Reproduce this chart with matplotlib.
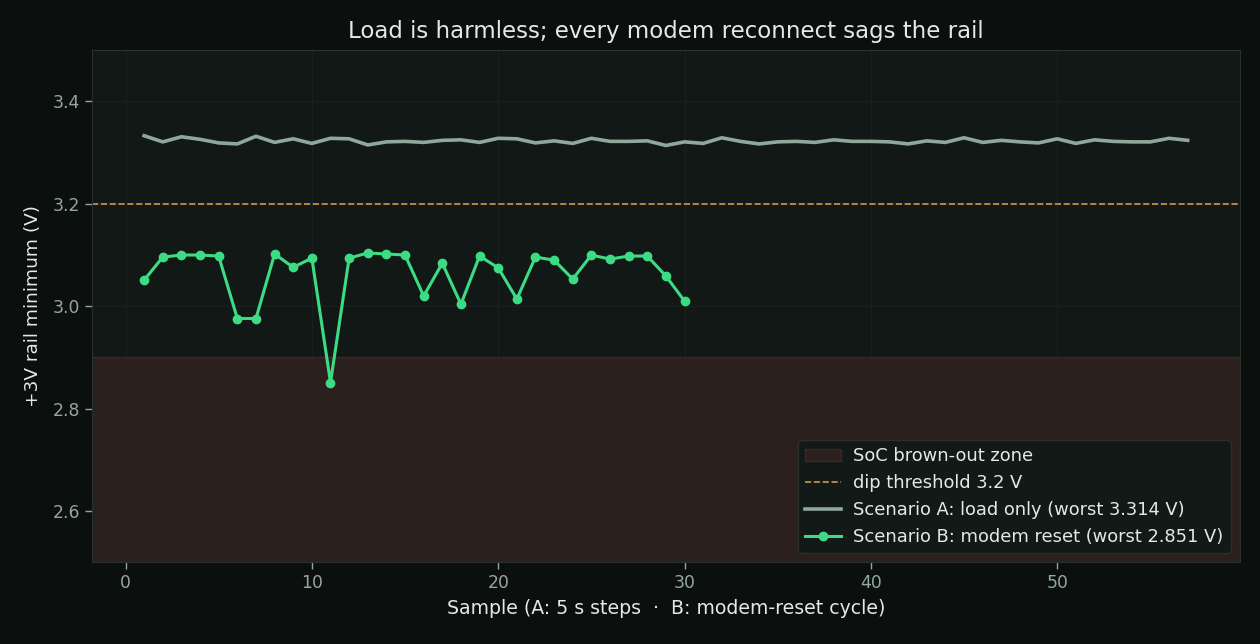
import numpy as np
import matplotlib
matplotlib.use("Agg")
import matplotlib.pyplot as plt

# Scenario A: load only, one sample every 5 s
samples_a = list(range(1, 58))
rail_a = [3.333, 3.321, 3.331, 3.326, 3.319, 3.317, 3.332, 3.320, 3.327, 3.318,
          3.328, 3.327, 3.315, 3.321, 3.322, 3.320, 3.324, 3.325, 3.320, 3.328,
          3.327, 3.319, 3.323, 3.318, 3.328, 3.322, 3.322, 3.323, 3.314, 3.321,
          3.318, 3.329, 3.322, 3.317, 3.321, 3.322, 3.320, 3.325, 3.322, 3.322,
          3.321, 3.317, 3.323, 3.320, 3.329, 3.320, 3.324, 3.321, 3.319, 3.327,
          3.318, 3.325, 3.322, 3.321, 3.321, 3.328, 3.324]

# Scenario B: modem-reset cycles
samples_b = list(range(1, 31))
rail_b = [3.051, 3.096, 3.100, 3.100, 3.098, 2.976, 2.976, 3.102, 3.076, 3.094,
          2.851, 3.094, 3.104, 3.102, 3.100, 3.020, 3.084, 3.004, 3.098, 3.075,
          3.014, 3.096, 3.090, 3.053, 3.100, 3.092, 3.098, 3.098, 3.059, 3.010]

threshold = 3.2
brownout = (2.5, 2.9)

bg = "#0b0f0e"
panel = "#111816"
text_c = "#e3e9e6"
tick_c = "#92a89c"
edge_c = "#27312d"

fig = plt.figure(figsize=(12.6, 6.44), dpi=100, facecolor=bg)
ax = fig.add_axes([0.073, 0.127, 0.911, 0.795])
ax.set_facecolor(panel)

ax.axhspan(brownout[0], brownout[1], facecolor="#2c201e", edgecolor="#3a2a26",
           linewidth=1, label="SoC brown-out zone", zorder=1)
ax.axhline(threshold, color="#d4964c", linestyle="--", linewidth=1.2,
           label=f"dip threshold {threshold} V", zorder=2)
ax.plot(samples_a, rail_a, color="#8fa89a", linewidth=2.6,
        label=f"Scenario A: load only (worst {min(rail_a):.3f} V)", zorder=3)
ax.plot(samples_b, rail_b, color="#3ddc84", linewidth=2.2, marker="o", markersize=6,
        label=f"Scenario B: modem reset (worst {min(rail_b):.3f} V)", zorder=4)

ax.set_ylim(2.5, 3.5)
ax.set_yticks([2.6, 2.8, 3.0, 3.2, 3.4])
ax.grid(True, color="#19211e", linewidth=0.8)
ax.set_axisbelow(True)

for s in ax.spines.values():
    s.set_color(edge_c)
ax.tick_params(colors=tick_c, labelsize=12.4, length=5, width=1)

ax.set_title("Load is harmless; every modem reconnect sags the rail",
             color=text_c, fontsize=16.5, pad=8.5)
ax.set_xlabel("Sample (A: 5 s steps  \u00b7  B: modem-reset cycle)", color=text_c,
              fontsize=13.6, labelpad=5)
ax.set_ylabel("+3V rail minimum (V)", color=text_c, fontsize=13.3, labelpad=8)

leg = ax.legend(loc="lower right", fontsize=12.9, facecolor="#121a17", edgecolor=edge_c,
                framealpha=1, fancybox=True, handletextpad=0.7)
for t in leg.get_texts():
    t.set_color(text_c)

fig.savefig("out.png", dpi=100, facecolor=bg)
